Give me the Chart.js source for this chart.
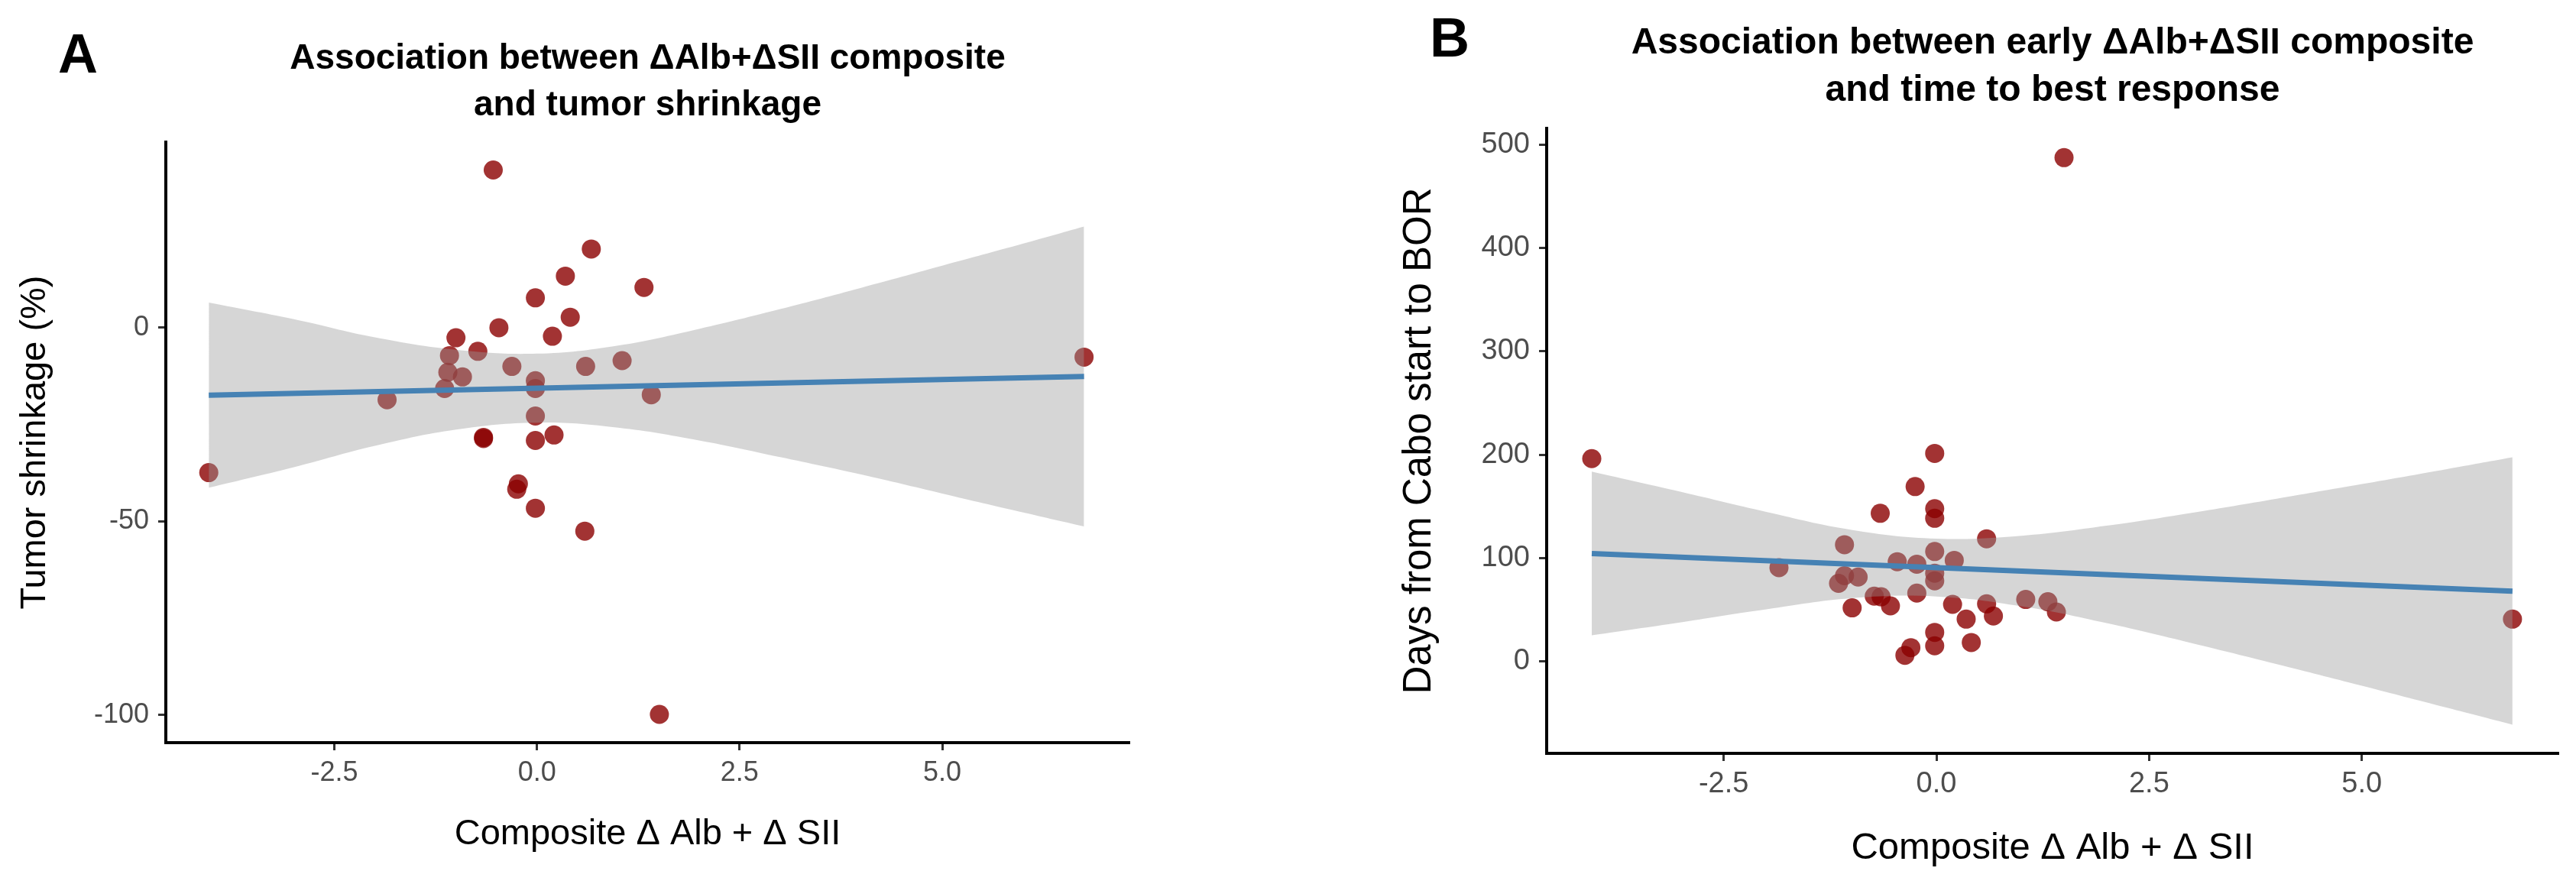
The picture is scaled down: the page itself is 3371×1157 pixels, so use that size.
<!DOCTYPE html>
<html>
<head>
<meta charset="utf-8">
<script src="https://cdn.jsdelivr.net/npm/chart.js@4.4.1/dist/chart.umd.min.js"></script>
<style>
  html, body { margin: 0; padding: 0; background: #fff; width: 3371px; height: 1157px; overflow: hidden; }
  .panel { position: absolute; top: 0; height: 1157px; }
  #wrapA { left: 0; width: 1500px; }
  #wrapB { left: 1810px; width: 1561px; }
</style>
</head>
<body>
<div class="panel" id="wrapA"><canvas id="chartA"></canvas></div>
<div class="panel" id="wrapB"><canvas id="chartB"></canvas></div>
<script>
// Panel A: composite vs tumor shrinkage
const shrinkX = [-0.54, 0.67, 0.35, 1.32, -0.02, 0.41, -0.47, 0.19, -1.00, -0.73, -1.08, -0.31, 0.60, 1.05,
  -1.10, -0.92, -0.02, -0.02, -1.14, -1.85, 1.41, -0.02, -0.66, -0.66, -0.02, 0.21, -0.23, -0.25, -0.02,
  0.59, -4.05, 1.51, 6.75]
const shrinkY = [40.7, 20.3, 13.3, 10.4, 7.7, 2.7, 0.0, -2.2, -2.6, -6.1, -7.2, -10.0, -10.0, -8.5,
  -11.5, -12.7, -13.7, -15.7, -15.7, -18.6, -17.3, -22.8, -28.3, -28.6, -29.1, -27.7, -40.3, -41.7, -46.6,
  -52.5, -37.4, -99.8, -7.6]
const fitAX = [-4.05, 6.75]
const fitAY = [-17.4, -12.6]
const bandAX = [-4.05, -3, -2, -1, 0, 1, 2, 3, 4, 5, 6, 6.75]
const bandAHi = [6.5, 2.2, -2.5, -5.7, -6.7, -4.6, -0.3, 4.8, 10.3, 16.0, 21.7, 26.1]
const bandALo = [-41.3, -36.0, -30.5, -26.3, -24.5, -25.8, -29.1, -33.4, -37.9, -42.8, -47.7, -51.3]
const yTicksA = [-100, -50, 0]

// Panel B: composite vs days to best response
const borX = [-0.02, -0.25, -0.66, -0.02, -0.02, 0.59, -1.08, -0.02, -0.46, -0.23, 0.21, -1.85, -0.02, -0.02,
  -0.92, -1.08, -1.15, -0.23, -0.73, -0.65, -0.54, -0.99, 0.19, 0.35, 0.59, 0.67, 1.05, 1.31, 1.41,
  -0.02, -0.02, 0.41, -0.30, -0.37, 1.50, -4.05, 6.77]
const borY = [201.3, 169.2, 143.3, 147.8, 138.5, 118.7, 113.0, 106.4, 96.5, 94.1, 97.8, 90.8, 85.4, 78.0,
  81.7, 83.0, 75.6, 66.2, 63.2, 62.6, 53.8, 51.9, 55.3, 41.0, 55.8, 44.0, 60.0, 57.8, 47.9,
  28.2, 15.2, 18.4, 13.4, 6.0, 487.3, 196.2, 41.0]
const fitBX = [-4.05, 6.77]
const fitBY = [104.5, 68.1]
const bandBX = [-4.05, -3, -2, -1, 0, 1, 2, 3, 4, 5, 6, 6.77]
const bandBHi = [183.6, 164.0, 144.7, 127.4, 118.9, 121.6, 131.3, 143.8, 157.5, 171.6, 186.1, 197.5]
const bandBLo = [25.4, 38.0, 50.5, 61.2, 62.9, 53.4, 37.1, 17.8, -2.5, -23.4, -44.7, -61.1]
const yTicksB = [0, 100, 200, 300, 400, 500]

const xTicks = [-2.5, 0, 2.5, 5]
const xTitle = 'Composite \u0394 Alb + \u0394 SII'

const fontFamily = '"Liberation Sans", Arial, Helvetica, sans-serif'
const pointColor = 'rgba(139, 0, 0, 0.8)'
const bandColor = 'rgba(153, 153, 153, 0.4)'
const fitColor = '#4682B4'

const zip = (xs, ys) => xs.map((x, i) => ({ x, y: ys[i] }))

const panelText = {
  id: 'panelText',
  afterDraw(chart, args, opts) {
    const { ctx, chartArea } = chart
    const cx = (chartArea.left + chartArea.right) / 2
    ctx.save()
    ctx.fillStyle = '#000'
    ctx.textAlign = 'center'
    ctx.textBaseline = 'middle'
    ctx.font = 'bold ' + opts.size + 'px ' + fontFamily
    opts.lines.forEach((t, i) => ctx.fillText(t, cx, opts.top + i * opts.gap))
    ctx.font = 'bold 72px ' + fontFamily
    ctx.fillText(opts.letter, opts.letterX, opts.letterY)
    ctx.restore()
  },
}

function makeChart(id, cfg) {
  return new Chart(document.getElementById(id), {
    type: 'line',
    data: {
      datasets: [
        {
          data: zip(cfg.fitX, cfg.fitY),
          borderColor: fitColor,
          borderWidth: 7,
          pointRadius: 0,
          fill: false,
          order: 0,
        },
        {
          data: zip(cfg.bandX, cfg.bandHi),
          borderWidth: 0,
          borderColor: 'rgba(0,0,0,0)',
          backgroundColor: bandColor,
          pointRadius: 0,
          tension: 0.4,
          fill: '+1',
          order: 1,
        },
        {
          data: zip(cfg.bandX, cfg.bandLo),
          borderWidth: 0,
          borderColor: 'rgba(0,0,0,0)',
          pointRadius: 0,
          tension: 0.4,
          fill: false,
          order: 1,
        },
        {
          data: zip(cfg.px, cfg.py),
          showLine: false,
          pointRadius: 12.5,
          pointBorderWidth: 0,
          pointBackgroundColor: pointColor,
          order: 2,
        },
      ],
    },
    options: {
      responsive: true,
      maintainAspectRatio: false,
      animation: false,
      events: [],
      layout: { autoPadding: false, padding: { top: cfg.top, right: cfg.right, left: 0, bottom: 0 } },
      plugins: {
        legend: { display: false },
        tooltip: { enabled: false },
        panelText: cfg.text,
      },
      scales: {
        x: {
          type: 'linear',
          min: -4.58,
          max: 7.31,
          afterBuildTicks: (s) => { s.ticks = xTicks.map((v) => ({ value: v })) },
          afterFit: (s) => { s.height = cfg.xH },
          grid: { display: true, drawOnChartArea: false, drawTicks: true, tickLength: 10, tickWidth: 3, tickColor: '#333' },
          border: { display: true, color: '#000', width: 4 },
          ticks: { color: '#4d4d4d', padding: 8, font: { family: fontFamily, size: cfg.tickSize }, callback: (v) => v.toFixed(1) },
          title: { display: true, text: xTitle, color: '#000', font: { family: fontFamily, size: cfg.xTitleSize }, padding: { top: 0, bottom: cfg.xTitlePad } },
        },
        y: {
          type: 'linear',
          min: cfg.yMin,
          max: cfg.yMax,
          afterBuildTicks: (s) => { s.ticks = cfg.yTicks.map((v) => ({ value: v })) },
          afterFit: (s) => { s.width = cfg.yW },
          grid: { display: true, drawOnChartArea: false, drawTicks: true, tickLength: 10, tickWidth: 3, tickColor: '#333' },
          border: { display: true, color: '#000', width: 4 },
          ticks: { color: '#4d4d4d', padding: 12, font: { family: fontFamily, size: cfg.tickSize } },
          title: { display: true, text: cfg.yTitle, color: '#000', font: { family: fontFamily, size: cfg.yTitleSize }, padding: { top: cfg.yTitlePad, bottom: 0 } },
        },
      },
    },
    plugins: [panelText],
  })
}

makeChart('chartA', {
  px: shrinkX, py: shrinkY,
  fitX: fitAX, fitY: fitAY,
  bandX: bandAX, bandHi: bandAHi, bandLo: bandALo,
  yMin: -107.1, yMax: 47.9, yTicks: yTicksA,
  yTitle: 'Tumor shrinkage (%)',
  top: 186, right: 22, yW: 217, xH: 185,
  tickSize: 36, xTitleSize: 47, yTitleSize: 47,
  xTitlePad: 37, yTitlePad: 18,
  text: {
    lines: ['Association between \u0394Alb+\u0394SII composite', 'and tumor shrinkage'],
    size: 46, top: 77, gap: 61, letter: 'A', letterX: 102, letterY: 75,
  },
})

makeChart('chartB', {
  px: borX, py: borY,
  fitX: fitBX, fitY: fitBY,
  bandX: bandBX, bandHi: bandBHi, bandLo: bandBLo,
  yMin: -88.8, yMax: 515.6, yTicks: yTicksB,
  yTitle: 'Days from Cabo start to BOR',
  top: 168, right: 23, yW: 214, xH: 171,
  tickSize: 38, xTitleSize: 49, yTitleSize: 51,
  xTitlePad: 17, yTitlePad: 17,
  text: {
    lines: ['Association between early \u0394Alb+\u0394SII composite', 'and time to best response'],
    size: 48, top: 57, gap: 62, letter: 'B', letterX: 87, letterY: 54,
  },
})
</script>
</body>
</html>
